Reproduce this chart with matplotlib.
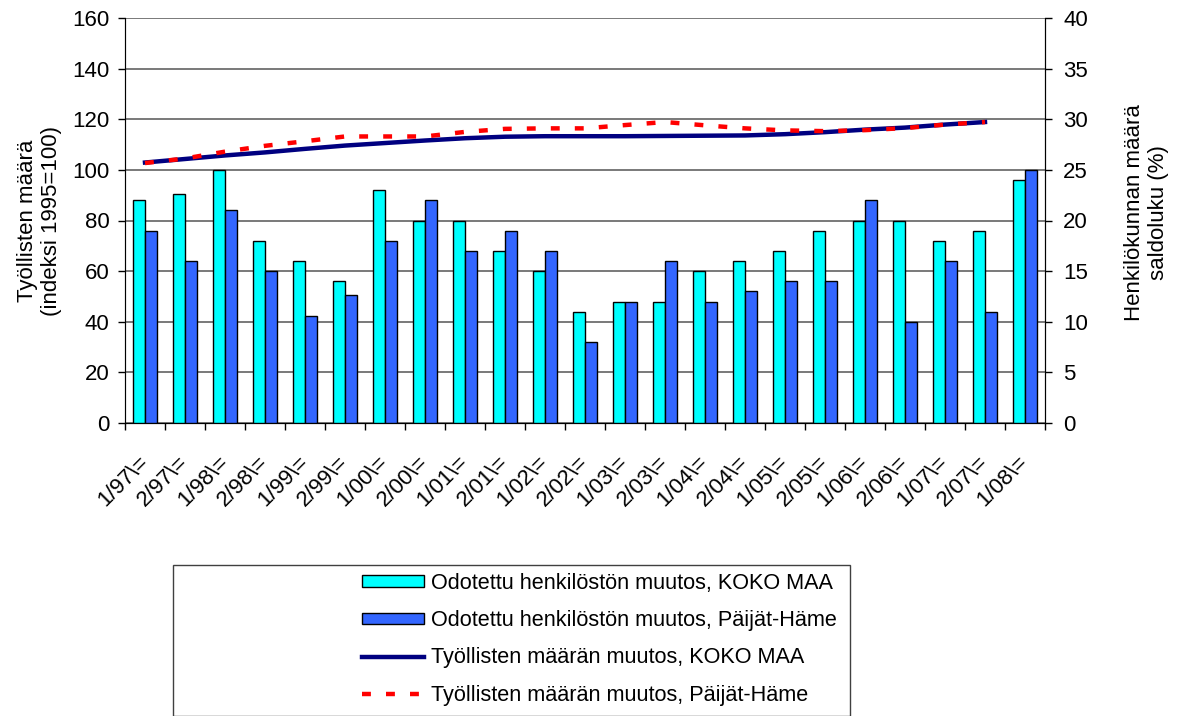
import matplotlib.pyplot as plt
import matplotlib.transforms as mtransforms
import numpy as np
from matplotlib.patches import Patch, Rectangle
from matplotlib.lines import Line2D

plt.rcParams['font.family'] = ['Liberation Sans', 'DejaVu Sans']

# kausi (1 = kevät, 2 = syksy)
kaudet = ['1/97', '2/97', '1/98', '2/98', '1/99', '2/99', '1/00', '2/00',
          '1/01', '2/01', '1/02', '2/02', '1/03', '2/03', '1/04', '2/04',
          '1/05', '2/05', '1/06', '2/06', '1/07', '2/07', '1/08']
labels = [k + '\\=' for k in kaudet]

# odotettu henkilöstön muutos, saldoluku (%)
koko_maa_saldo = [22, 22.6, 25, 18, 16, 14, 23, 20, 20, 17, 15, 11,
                  12, 12, 15, 16, 17, 19, 20, 20, 18, 19, 24]
ph_saldo = [19, 16, 21, 15, 10.6, 12.6, 18, 22, 17, 19, 17, 8,
            12, 16, 12, 13, 14, 14, 22, 10, 16, 11, 25]

# työllisten määrä, indeksi 1995=100 (ei arvoa 1/08)
koko_maa_ind = [102.9, 104.3, 105.7, 106.9, 108.3, 109.6, 110.6, 111.6,
                112.5, 113.1, 113.3, 113.3, 113.3, 113.4, 113.5, 113.6,
                114.1, 114.9, 115.9, 116.7, 117.9, 118.9]
ph_ind = [102.7, 104.5, 107.2, 109.5, 111.3, 113.2, 113.2, 113.2,
          115.0, 116.2, 116.4, 116.4, 117.7, 118.9, 117.6, 116.4,
          115.6, 115.3, 115.7, 116.5, 117.9, 118.9]

W, H = 1178, 716
fig = plt.figure(figsize=(W / 100, H / 100), dpi=100)
ax = fig.add_axes([125 / W, 1 - 423 / H, 920 / W, 405 / H])
ax2 = ax.twinx()

x = np.arange(len(kaudet))
bw = 0.29
fs = 16

# pylväät oikealla akselilla
ax2.bar(x - bw / 2, koko_maa_saldo, bw, color='#00FFFF', edgecolor='black', linewidth=1, zorder=3)
ax2.bar(x + bw / 2, ph_saldo, bw, color='#3366FF', edgecolor='black', linewidth=1, zorder=3)
ax2.set_ylim(0, 40)
ax2.set_yticks(np.arange(0, 41, 5))
ax2.yaxis.grid(True, color='#555555', linewidth=1.1, zorder=0)
ax2.set_axisbelow(True)

# viivat vasemmalla akselilla (piirretään ax2:een, skaalattu 160 -> 40)
xl = np.arange(len(koko_maa_ind))
ax2.plot(xl, np.array(koko_maa_ind) / 4, color='#000080', linewidth=3.2, zorder=4)
ax2.plot(xl, np.array(ph_ind) / 4, color='#FF0000', linewidth=3.2, linestyle=(0, (2.0, 3.4)), zorder=5)

ax.set_ylim(0, 160)
ax.set_yticks(np.arange(0, 161, 20))
ax.set_xlim(-0.5, len(kaudet) - 0.5)
ax2.set_xlim(-0.5, len(kaudet) - 0.5)

ax.set_xticks(x)
ax.set_xticklabels(labels, rotation=45, ha='right', va='center', rotation_mode='anchor', fontsize=fs)
offset = mtransforms.ScaledTranslation(-10 / 100, 0, fig.dpi_scale_trans)
for lab in ax.get_xticklabels():
    lab.set_transform(lab.get_transform() + offset)
ax.set_xticks(np.arange(-0.5, len(kaudet), 1), minor=True)
ax.tick_params(axis='x', which='major', length=0, pad=26)
ax.tick_params(axis='x', which='minor', length=5, width=1)
ax.tick_params(axis='y', labelsize=fs, length=5, width=1, pad=6)
ax2.tick_params(axis='y', labelsize=fs, length=5, width=1, pad=8)

for a in (ax, ax2):
    a.spines['top'].set_visible(False)
ax.spines['left'].set_color('#505050')
ax2.spines['right'].set_color('black')

ax.set_ylabel('Työllisten määrä\n(indeksi 1995=100)', fontsize=fs)
ax.yaxis.set_label_coords((62 - 125) / 920, 0.5)
ax2.set_ylabel('Henkilökunnan määrä\nsaldoluku (%)', fontsize=fs, rotation=90)
ax2.yaxis.set_label_coords((1124 - 125) / 920, 0.52)

# selitelaatikko
fig.patches.append(Rectangle((173 / W, 0), (850 - 173) / W, (716 - 565) / H,
                             transform=fig.transFigure, fill=False,
                             edgecolor='#404040', linewidth=1))
handles = [Patch(facecolor='#00FFFF', edgecolor='black'),
           Patch(facecolor='#3366FF', edgecolor='black'),
           Line2D([], [], color='#000080', linewidth=3.2),
           Line2D([], [], color='#FF0000', linewidth=3.2, linestyle=(0, (2.0, 3.4)))]
names = ['Odotettu henkilöstön muutos, KOKO MAA',
         'Odotettu henkilöstön muutos, Päijät-Häme',
         'Työllisten määrän muutos, KOKO MAA',
         'Työllisten määrän muutos, Päijät-Häme']
fig.legend(handles, names, loc='upper left', bbox_to_anchor=(362 / W, 1 - 573 / H),
           frameon=False, fontsize=15.6, handlelength=2.85, handleheight=0.45,
           handletextpad=0.35, labelspacing=0.75, borderpad=0, borderaxespad=0)

fig.savefig('out.png', dpi=100)
